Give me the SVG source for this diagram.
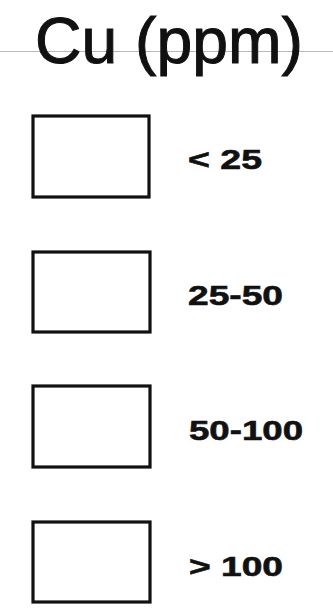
<svg xmlns="http://www.w3.org/2000/svg" width="333" height="608" viewBox="0 0 333 608">
<style>
.box{fill:#fff;stroke:#111;stroke-width:3.2}
.lbl{font-family:"Liberation Sans",Arial,sans-serif;font-weight:bold;font-size:28px;fill:#111;stroke:#111;stroke-width:0.6}
.title{font-family:"Liberation Sans",Arial,sans-serif;font-size:64px;fill:#111;stroke:#111;stroke-width:1}
</style>
<rect x="0" y="0" width="333" height="608" fill="#fff"/>
<line x1="0" y1="51.5" x2="333" y2="51.5" stroke="#b8b8b8" stroke-width="1"/>
<text class="title" x="35" y="63" textLength="268" lengthAdjust="spacingAndGlyphs">Cu (ppm)</text>
<g id="item1">
<rect class="box" x="33" y="116" width="116" height="81"/>
<text class="lbl" x="188" y="169" textLength="74" lengthAdjust="spacingAndGlyphs">&lt; 25</text>
</g>
<g id="item2">
<rect class="box" x="33" y="252" width="117" height="80"/>
<text class="lbl" x="188" y="305" textLength="95" lengthAdjust="spacingAndGlyphs">25-50</text>
</g>
<g id="item3">
<rect class="box" x="33" y="386" width="117" height="81"/>
<text class="lbl" x="189" y="440" textLength="114" lengthAdjust="spacingAndGlyphs">50-100</text>
</g>
<g id="item4">
<rect class="box" x="33" y="522" width="117" height="80"/>
<text class="lbl" x="189" y="576" textLength="94" lengthAdjust="spacingAndGlyphs">&gt; 100</text>
</g>
</svg>
